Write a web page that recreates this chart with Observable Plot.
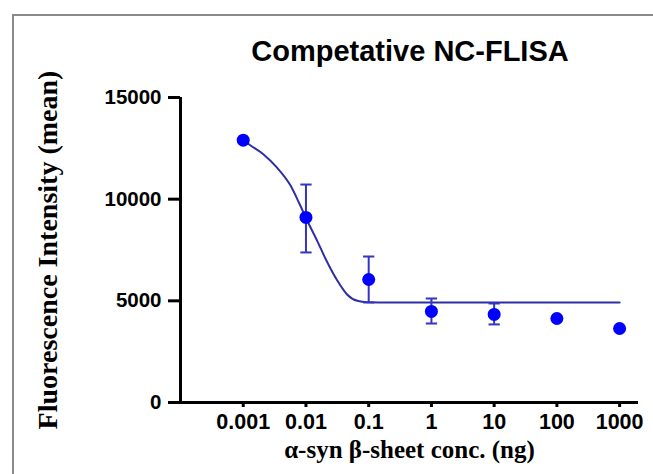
<!DOCTYPE html>
<html>
<head>
<meta charset="utf-8">
<script src="https://cdn.jsdelivr.net/npm/d3@7"></script>
<script src="https://cdn.jsdelivr.net/npm/@observablehq/plot@0.6"></script>
<style>
  body { margin: 0; background: #fff; }
  #wrap { position: relative; width: 653px; height: 474px; overflow: hidden; background: #fff; }
  #frame { position: absolute; left: 12px; top: 14px; width: 700px; height: 520px;
           border-left: 2px solid #8a8a8a; border-top: 2px solid #8a8a8a; box-sizing: border-box; }
  #title { position: absolute; left: 0; top: 0; width: 820px; height: 80px; }
  #title span { position: absolute; left: 0; width: 820px; top: 37px; text-align: center;
                font-family: "Liberation Sans", Arial, sans-serif; font-weight: bold;
                font-size: 29px; line-height: 28px; color: #000; white-space: nowrap; }
  #chart { position: absolute; left: 0; top: 80px; }
</style>
</head>
<body>
<div id="wrap">
  <div id="frame"></div>
  <div id="title"><span>Competative NC-FLISA</span></div>
  <div id="chart"></div>
</div>
<script>
// ---- data ----
const concentrations = [0.001, 0.01, 0.1, 1, 10, 100, 1000];
const meanValues     = [12900, 9100, 6050, 4480, 4330, 4130, 3640];
const errLow         = [null, 7380, 4920, 3885, 3840, null, null];
const errHigh        = [null, 10720, 7180, 5115, 4870, null, null];

// fitted curve (log10 of conc., value)
const curveLogConc = [-3.0, -2.888, -2.675, -2.461, -2.248, -2.1, -1.981, -1.821, -1.688, -1.501, -1.341, -1.181, -1.021, -0.648, 3.0];
const curveValues  = [12900, 12650, 12200, 11550, 10680, 9750, 8950, 7950, 7070, 6000, 5300, 5000, 4935, 4920, 4920];

const xTicks = [0.001, 0.01, 0.1, 1, 10, 100, 1000];
const xTickLabels = ["0.001", "0.01", "0.1", "1", "10", "100", "1000"];
const yTicks = [0, 5000, 10000, 15000];
const xDomain = [0.0001, 2000];
const yDomain = [0, 15000];

const xLabel = "α-syn β-sheet conc. (ng)";
const yLabel = "Fluorescence Intensity (mean)";

// ---- tables ----
const points = concentrations.map((c, i) => ({x: c, y: meanValues[i], lo: errLow[i], hi: errHigh[i]}));
const errs = points.filter(d => d.lo != null);
const curve = curveLogConc.map((l, i) => ({x: Math.pow(10, l), y: curveValues[i]}));
const capHalf = Math.pow(10, 0.09);

const sans = "Liberation Sans, Arial, sans-serif";
const serif = "Liberation Serif, Times New Roman, serif";

const chart = Plot.plot({
  width: 653,
  height: 394,
  marginTop: 17,
  marginBottom: 72,
  marginLeft: 180,
  marginRight: 15,
  style: {background: "transparent", overflow: "visible"},
  x: {type: "log", domain: xDomain},
  y: {domain: yDomain},
  marks: [
    Plot.axisY({ticks: yTicks, tickSize: 12, tickPadding: 7, strokeWidth: 3, stroke: "#000",
                fontSize: 20.5, fontWeight: "bold", fontFamily: sans, label: null,
                tickFormat: d => String(d)}),
    Plot.axisX({ticks: xTicks, tickSize: 5, tickPadding: 6, strokeWidth: 3, stroke: "#000",
                fontSize: 21.5, fontWeight: "bold", fontFamily: sans, label: null,
                tickFormat: d => xTickLabels[xTicks.indexOf(d)]}),
    Plot.ruleY([0], {strokeWidth: 3, stroke: "#000"}),
    Plot.ruleX([xDomain[0]], {y1: yDomain[0], y2: yDomain[1], strokeWidth: 3, stroke: "#000"}),
    Plot.line(curve, {x: "x", y: "y", stroke: "#2f2fa3", strokeWidth: 2, curve: "monotone-x"}),
    Plot.ruleX(errs, {x: "x", y1: "lo", y2: "hi", stroke: "#3434c4", strokeWidth: 2}),
    Plot.link(errs, {x1: d => d.x / capHalf, x2: d => d.x * capHalf, y1: "hi", y2: "hi", stroke: "#3434c4", strokeWidth: 2}),
    Plot.link(errs, {x1: d => d.x / capHalf, x2: d => d.x * capHalf, y1: "lo", y2: "lo", stroke: "#3434c4", strokeWidth: 2}),
    Plot.dot(points, {x: "x", y: "y", r: 6.5, fill: "#0000ff", stroke: "none"}),
    Plot.text([yLabel], {frameAnchor: "left", dx: -132, rotate: -90, fontSize: 28, fontWeight: "bold",
                         fontFamily: serif, fill: "#000", textAnchor: "middle", lineAnchor: "middle"}),
    Plot.text([xLabel], {frameAnchor: "bottom", dy: 47, fontSize: 25, fontWeight: "bold",
                         fontFamily: serif, fill: "#000", textAnchor: "middle", lineAnchor: "middle"})
  ]
});
document.getElementById("chart").appendChild(chart);
</script>
</body>
</html>
